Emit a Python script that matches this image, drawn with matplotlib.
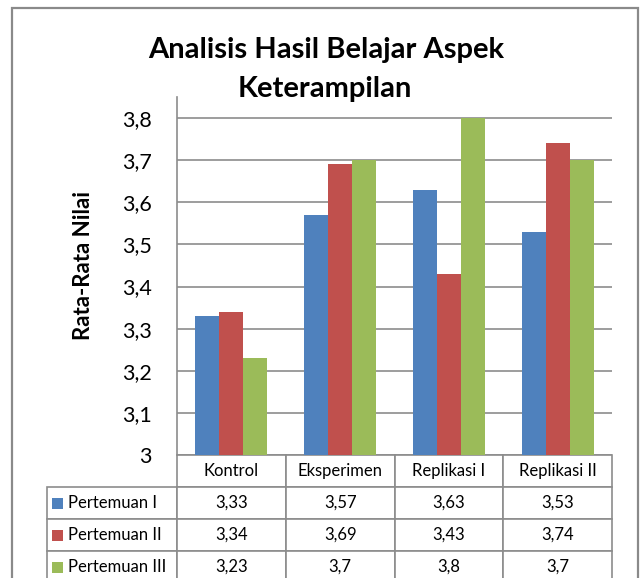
import numpy as np
import matplotlib.pyplot as plt
from matplotlib.patches import Rectangle

plt.rcParams['font.family'] = ['Lato', 'DejaVu Sans']

categories = ["Kontrol", "Eksperimen", "Replikasi I", "Replikasi II"]
series_names = ["Pertemuan I", "Pertemuan II", "Pertemuan III"]
pertemuan_1 = [3.33, 3.57, 3.63, 3.53]
pertemuan_2 = [3.34, 3.69, 3.43, 3.74]
pertemuan_3 = [3.23, 3.7, 3.8, 3.7]
colors = ["#4F81BD", "#C0504D", "#9BBB59"]
series = [pertemuan_1, pertemuan_2, pertemuan_3]


def fmt(v):
    # angka gaya Indonesia: koma desimal
    return f"{v:g}".replace(".", ",")


W, H = 640, 578
fig = plt.figure(figsize=(W / 100, H / 100), dpi=100)

# bingkai grafik
fig.patches.append(Rectangle((12 / W, -0.05), (637.5 - 12) / W, 1.05 - 8 / H,
                             transform=fig.transFigure, fill=False,
                             edgecolor="#8a8a8a", linewidth=1.6))

ax = fig.add_axes([177 / W, 1 - 455 / H, 435 / W, 358 / H])

x = np.arange(len(categories))
bw = 0.22
for i, (vals, c) in enumerate(zip(series, colors)):
    ax.bar(x + (i - 1) * bw, np.array(vals) - 3, bw, bottom=3, color=c,
           zorder=3, label=series_names[i])

ax.set_xlim(-0.5, len(categories) - 0.5)
ax.set_ylim(3, 3.85)
ticks = np.round(np.arange(3, 3.81, 0.1), 1)
ax.set_yticks(ticks)
ax.set_yticklabels([fmt(t) for t in ticks], fontsize=15.5)
ax.tick_params(axis="y", length=0, pad=18)
ax.set_xticks([])
for t in ticks:
    ax.axhline(t, color="#8c8c8c", linewidth=1.2, zorder=1)
for s in ["top", "right", "bottom"]:
    ax.spines[s].set_visible(False)
ax.spines["left"].set_color("#8c8c8c")
ax.spines["left"].set_linewidth(1.2)

fig.text(83 / W, 1 - 265 / H, "Rata-Rata Nilai", rotation=90, fontsize=16,
         fontweight="bold", ha="center", va="center")

fig.text(326 / W, 1 - 58 / H, "Analisis Hasil Belajar Aspek", fontsize=21,
         fontweight="bold", ha="center", va="baseline")
fig.text(325 / W, 1 - 97 / H, "Keterampilan", fontsize=21,
         fontweight="bold", ha="center", va="baseline")

# tabel data
cell_text = [[series_names[i]] + [fmt(v) for v in series[i]] for i in range(3)]
col_labels = [""] + categories
axw = 435.0
tbl = ax.table(cellText=cell_text, colLabels=col_labels,
               colWidths=[130 / axw] + [108.75 / axw] * 4,
               cellLoc="center",
               bbox=[(47 - 177) / axw, -128 / 358, (612 - 47) / axw, 128 / 358])
tbl.auto_set_font_size(False)
tbl.set_fontsize(12)
for (r, c), cell in tbl.get_celld().items():
    cell.set_edgecolor("#8c8c8c")
    cell.set_linewidth(1.2)
    if r == 0 and c == 0:
        cell.visible_edges = ""
    if c == 0 and r > 0:
        cell._loc = "left"
        cell.PAD = 0.165
        cell.get_text().set_ha("left")

for i, c in enumerate(colors):
    yc = 455 + 32 * (i + 1) + 15.5
    ax.add_patch(Rectangle(((52 - 177) / axw, (455 - yc - 6) / 358),
                           11 / axw, 11 / 358, transform=ax.transAxes,
                           facecolor=c, edgecolor="none", clip_on=False))

fig.savefig("out.png", dpi=100)
